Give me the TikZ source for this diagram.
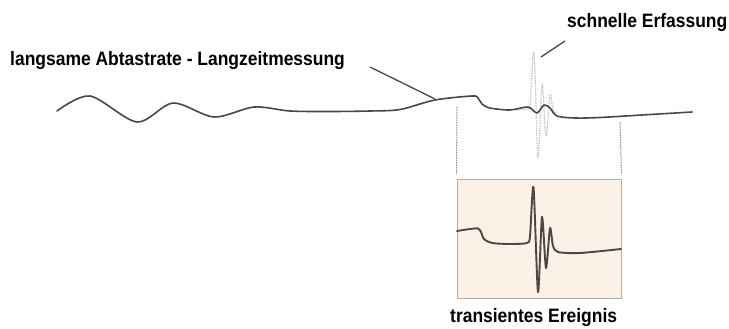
\documentclass[tikz,border=0pt]{standalone}
\usepackage{fontspec}
\setmainfont{Liberation Sans}[FakeStretch=0.9]
\definecolor{wave}{HTML}{4A4745}
\definecolor{boxfill}{HTML}{FCF1E7}
\definecolor{boxline}{HTML}{B5AEA8}
\definecolor{guide}{HTML}{8A8A8A}
\definecolor{fast}{HTML}{C4C4C4}
\begin{document}
\begin{tikzpicture}[x=1pt,y=-1pt,
  label/.style={font=\fontsize{19.4}{22}\selectfont\bfseries, text=black, inner sep=0pt},
  signal/.style={draw=wave, line width=1.6pt, line cap=round, line join=round},
  leader/.style={draw=wave, line width=1.3pt},
  guideline/.style={draw=guide, line width=1pt, dash pattern=on 1.5pt off 1pt},
  sample/.style={draw=fast, line width=1.2pt, dash pattern=on 1.5pt off 1pt},
  zoombox/.style={draw=boxline, fill=boxfill, line width=1pt, minimum width=164pt, minimum height=119pt, inner sep=0pt}]
\useasboundingbox (0,0) rectangle (729,329);

% labels
\node[label, anchor=base west] (slow) at (10,66) {langsame Abtastrate - Langzeitmessung};
\node[label, anchor=base west] (fastlbl) at (567,28) {schnelle Erfassung};
\node[label, anchor=base west] (event) at (450,322) {transientes Ereignis};

% magnified view of the event
\node[zoombox] (zoom) at (539,238.5) {};

% guides from the signal down to the magnified view
\coordinate (gl) at (457,107);
\coordinate (gr) at (620,122);
\draw[guideline] (gl) -- ([yshift=4pt]zoom.north west);
\draw[guideline] (gr) -- ([yshift=4pt]zoom.north east);

% fast samples of the transient (light, dashed)
\draw[sample] plot[smooth, tension=0.55] coordinates {(516,110) (526,109) (530,104) (534,53) (538,158) (542,84) (546,136) (550,95) (553,110) (557,114)};

% long-term signal
\draw[signal] plot[smooth, tension=0.5] coordinates {(57,111) (90,96) (137,122) (173,103) (214,117) (254,107) (290,111) (330,111.5) (370,111) (400,109.5) (435,100) (472,96) (478,98) (482,104) (490,108) (510,110) (528,107) (537,113) (544,105) (550,108) (557,116) (575,118) (600,117.5) (650,114.5) (692,112)};

% transient in the magnified view
\draw[signal, line width=1.9pt] plot[smooth, tension=0.45] coordinates {(457,231) (470,229) (478,228.5) (481,232) (484,239) (492,243) (510,244) (527,243) (530,236) (533.5,187) (538,292) (542,217) (546,268) (550,228) (553,246) (558,252) (580,253) (621,249)};

% leaders
\coordinate (l1a) at (370,67);
\coordinate (l1b) at (435,99);
\coordinate (l2a) at (565,41);
\coordinate (l2b) at (541,57);
\draw[leader] (l1a) -- (l1b);
\draw[leader] (l2a) -- (l2b);
\end{tikzpicture}
\end{document}
